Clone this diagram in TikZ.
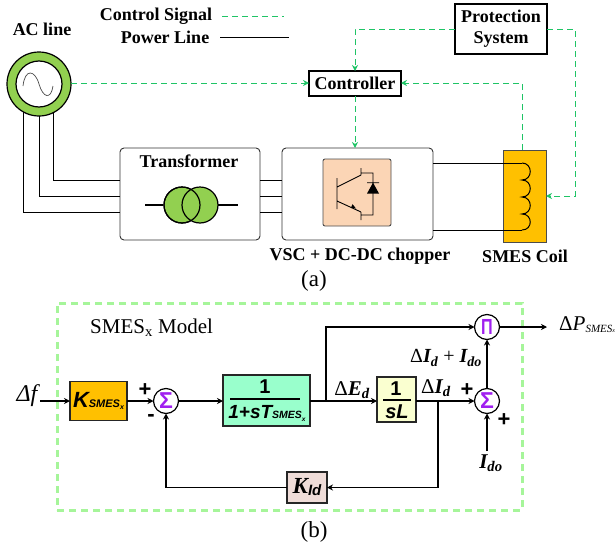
\documentclass[tikz,border=0pt]{standalone}
\usepackage{fontspec}
\setmainfont{Liberation Serif}
\setsansfont{Liberation Sans}
\usetikzlibrary{arrows.meta,calc}
\definecolor{ctrlgreen}{HTML}{1FC466}
\definecolor{ringgreen}{HTML}{92D050}
\definecolor{coilorange}{HTML}{FFC000}
\definecolor{peach}{HTML}{FBD5B5}
\definecolor{boxgreen}{HTML}{A6F59A}
\definecolor{mint}{HTML}{99FFCC}
\definecolor{paleyellow}{HTML}{FAFFD0}
\definecolor{palerose}{HTML}{EFDCD8}
\definecolor{sigmapurple}{HTML}{A020F0}
\tikzset{
  x=1pt,y=-1pt,
  lbl/.style={font=\fontsize{18}{21}\selectfont\bfseries,inner sep=0pt,align=center,text=black},
  captxt/.style={font=\fontsize{23}{26}\selectfont,inner sep=0pt},
  unitbox/.style={draw=black,line width=1.1pt,inner sep=0pt,outer sep=0pt},
  panel/.style={draw=black!80,line width=0.9pt,rounded corners=4pt,fill=white,inner sep=0pt,outer sep=0pt},
  ctl/.style={draw=ctrlgreen,line width=1pt,dash pattern=on 6pt off 4pt},
  ctlarrow/.style={ctl,-{Stealth[length=6pt,width=6pt,fill=ctrlgreen,sharp]}},
  pow/.style={draw=black,line width=1pt},
  sigline/.style={draw=black,line width=1.3pt},
  sigarrow/.style={sigline,-{Stealth[length=6pt,width=6pt]}},
  blockbox/.style={draw=black!85,line width=1.5pt,inner sep=0pt,outer sep=0pt,align=center},
  sumc/.style={circle,draw=black,line width=1.2pt,fill=white,minimum size=25pt,inner sep=0pt,outer sep=0pt,text=sigmapurple,font=\sffamily\bfseries\fontsize{23}{23}\selectfont},
  mathtxt/.style={font=\fontsize{21}{23}\selectfont,inner sep=0pt},
  sgn/.style={font=\sffamily\bfseries\fontsize{22}{22}\selectfont,inner sep=0pt},
}
\newcommand{\Dl}{\textup{Δ}}
\begin{document}
\begin{tikzpicture}
\useasboundingbox (0,0) rectangle (616,549);
% ---- legend
\node[lbl] (legc) at (156,16) {Control Signal};
\node[lbl] (legp) at (165,37) {Power Line};
\coordinate (lc1) at (222,16); \coordinate (lc2) at (284,16);
\coordinate (lp1) at (220,37); \coordinate (lp2) at (289,37);
\draw[ctl] (lc1) -- (lc2);
\draw[pow] (lp1) -- (lp2);
% ---- AC source
\node[lbl] (actitle) at (42,29) {AC line};
\coordinate (aca) at (23,111); \coordinate (acb) at (39,116); \coordinate (acc) at (53,112);
% ---- panels
\node[panel,minimum width=140pt,minimum height=92pt] (tr) at (190,194) {};
\node[panel,minimum width=151pt,minimum height=92pt] (vsc) at (357.5,194) {};
\draw[pow] (aca) |- (tr.west |- 0,212);
\draw[pow] (acb) |- (tr.west |- 0,196);
\draw[pow] (acc) |- (tr.west |- 0,180);
\draw[pow] (tr.east |- 0,180) -- (vsc.west |- 0,180);
\draw[pow] (tr.east |- 0,196) -- (vsc.west |- 0,196);
\draw[pow] (tr.east |- 0,212) -- (vsc.west |- 0,212);
\node[circle,draw=black,line width=1.2pt,fill=ringgreen,minimum size=64pt,inner sep=0pt,outer sep=0pt] (ac) at (39,84) {};
\node[circle,draw=black,line width=1.2pt,fill=white,minimum size=46pt,inner sep=0pt,outer sep=0pt] (acin) at (39,84) {};
\draw[black!70,line width=0.7pt] (23,86) .. controls (25,68) and (35,70) .. (39,84) .. controls (43,98) and (51,100) .. (53,86);
% transformer
\node[lbl] (trtitle) at (189,161) {Transformer};
\coordinate (twl) at (145,205); \coordinate (twr) at (238,205);
\draw[black,line width=1.3pt] (twl) -- (163,205) (218,205) -- (twr);
\node[circle,draw=black,line width=1.2pt,fill=ringgreen,minimum size=36pt,inner sep=0pt] (tw1) at (182,205) {};
\node[circle,draw=black,line width=1.2pt,fill=ringgreen,minimum size=36pt,inner sep=0pt] (tw2) at (200,205) {};
\draw[black,line width=1.2pt] (182,205) circle[radius=18pt];
% VSC inner
\node[draw=black!70,line width=0.9pt,fill=peach,rounded corners=2pt,minimum width=68pt,minimum height=67pt,inner sep=0pt] (igbt) at (357,192.5) {};
\draw[black,line width=0.9pt] (337,178) -- (337,209)
  (337,187) -- (361,175) (361,168) -- (361,175)
  (337,201) -- (361,212) (361,212) -- (361,220)
  (361,173) -- (373,173) -- (373,215) -- (361,215)
  (367,182.7) -- (379,182.7);
\fill[black] (367,193.5) -- (379,193.5) -- (373,182.7) -- cycle;
\fill[black] (356,208.5) -- (351,207.6) -- (352.5,204.2) -- cycle;
\node[lbl] (vsctitle) at (360,256) {VSC + DC-DC chopper};
% SMES coil
\node[draw=black!70,line width=1pt,fill=coilorange,minimum width=43pt,minimum height=92pt,inner sep=0pt,outer sep=0pt] (coil) at (524.5,196) {};
\coordinate (cta) at (522,163); \coordinate (ctb) at (522,230);
\draw[pow] (vsc.east |- cta) -- (cta);
\draw[pow] (vsc.east |- ctb) -- (ctb);
\draw[black,line width=1pt] (cta)
  .. controls (533,163) and (533,180) .. (522,180)
  .. controls (533,180) and (533,197) .. (522,197)
  .. controls (533,197) and (533,214) .. (522,214)
  .. controls (533,214) and (533,230) .. (ctb);
\node[lbl] (coiltitle) at (525,256) {SMES Coil};
\node[captxt] (capa) at (314,281) {(a)};
% controller and protection
\node[unitbox,fill=white,minimum width=92pt,minimum height=25pt,lbl] (ctrl) at (355,83.5) {Controller};
\node[unitbox,fill=white,minimum width=92pt,minimum height=50pt,lbl] (prot) at (501,29) {Protection\\System};
\draw[ctlarrow] (ac.east |- 0,83) -- (ctrl.west |- 0,83);
\draw[ctlarrow] (prot.west) -| (ctrl.north);
\draw[ctlarrow] (ctrl.south) -- (vsc.north -| ctrl.south);
\draw[ctlarrow] (coil.north -| cta) |- (ctrl.east |- 0,83);
\draw[ctlarrow] (prot.east) -- (575,29) |- (coil.east |- 0,196);
% ==== part b
\node[draw=boxgreen,line width=3pt,dash pattern=on 7pt off 5pt,minimum width=465pt,minimum height=207pt,inner sep=0pt] (frame) at (289.5,406.5) {};
\node[captxt,font=\fontsize{21}{24}\selectfont,anchor=west] (model) at (90,328) {SMES\textsubscript{x} Model};
\node[mathtxt,font=\fontsize{24}{25}\selectfont\itshape] (df) at (27,396) {Δf};
\coordinate (dfend) at (40,401);
\node[blockbox,fill=coilorange,minimum width=57pt,minimum height=39pt,font=\sffamily\bfseries\itshape] (ksm) at (98.5,401) {\fontsize{22}{22}\selectfont K\fontsize{11}{12}\selectfont SMES\raisebox{-2.5pt}{\fontsize{7}{8}\selectfont x}};
\node[sumc] (s1) at (166,401) {Σ};
\node[blockbox,fill=mint,minimum width=87pt,minimum height=51pt] (lag) at (266.5,400.5) {};
\node[font=\sffamily\bfseries\fontsize{20}{20}\selectfont,inner sep=0pt] (lagn) at (265,387) {1};
\node[font=\sffamily\bfseries\itshape\fontsize{19}{20}\selectfont,inner sep=0pt] (lagd) at (267,413.5) {1+sT\fontsize{10.5}{12}\selectfont SMES\raisebox{-2.5pt}{\fontsize{6.5}{7}\selectfont x}};
\draw[black,line width=1.3pt] (230,399) -- (300,399);
\node[blockbox,fill=paleyellow,minimum width=39pt,minimum height=45pt] (sl) at (396.5,399.5) {};
\node[font=\sffamily\bfseries\fontsize{20}{20}\selectfont,inner sep=0pt] (sln) at (396,389) {1};
\node[font=\sffamily\bfseries\itshape\fontsize{20}{20}\selectfont,inner sep=0pt] (sld) at (397,412) {sL};
\draw[black,line width=1.3pt] (383,400) -- (411,400);
\node[sumc] (s2) at (487,401) {Σ};
\node[sumc] (pi) at (487,327) {\scalebox{0.7}[0.95]{Π}};
\node[blockbox,fill=palerose,minimum width=40pt,minimum height=31pt,font=\sffamily\bfseries\itshape] (kid) at (307,487.5) {\fontsize{23}{23}\selectfont\rmfamily K\fontsize{15}{15}\selectfont\sffamily\raisebox{-2pt}{Id}};
\coordinate (j1) at (326,401);
\coordinate (j2) at (438,401);
\coordinate (ido) at (487,451);
\coordinate (pout) at (547,327);
\draw[sigarrow] (dfend) -- (ksm.west);
\draw[sigarrow] (ksm.east) -- (s1.west);
\draw[sigarrow] (s1.east) -- (lag.west |- s1.east);
\draw[sigarrow] (lag.east |- j1) -- (sl.west |- j1);
\draw[sigarrow] (j1) |- (pi.west);
\draw[sigarrow] (sl.east |- j1) -- (s2.west);
\draw[sigarrow] (j2) |- (kid.east);
\draw[sigarrow] (kid.west) -| (s1.south);
\draw[sigarrow] (ido) -- (s2.south);
\draw[sigarrow] (s2.north) -- (pi.south);
\draw[sigarrow] (pi.east) -- (pout);
\node[sgn] (p1) at (145,390) {+};
\node[sgn] (m1) at (151,418) {-};
\node[sgn] (p2) at (467,390) {+};
\node[sgn] (p3) at (504,420) {+};
\node[mathtxt] (ed) at (352,390) {\Dl\textbf{\textit{E\textsubscript{d}}}};
\node[mathtxt] (id) at (436,388) {\Dl\textbf{\textit{I\textsubscript{d}}}};
\node[mathtxt,font=\fontsize{20}{22}\selectfont] (sumlab) at (446,358) {\Dl\textbf{\textit{I\textsubscript{d}}} + \textbf{\textit{I\textsubscript{do}}}};
\node[mathtxt] (idolab) at (491,463) {\textbf{\textit{I\textsubscript{do}}}};
\node[mathtxt,anchor=west] (plab) at (559,325) {\fontsize{21}{22}\selectfont\Dl\textit{P}\fontsize{11}{13}\selectfont\textit{\raisebox{-2pt}{SMES\fontsize{6}{7}\selectfont x}}};
\node[captxt] (capb) at (314,532) {(b)};
\end{tikzpicture}
\end{document}
